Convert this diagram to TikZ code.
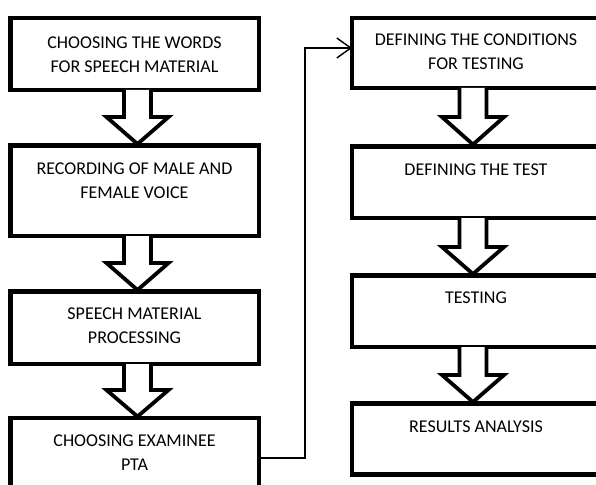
\documentclass[tikz,border=0pt]{standalone}
\usepackage{fontspec}
\setmainfont{Carlito}
\usetikzlibrary{arrows.meta}
\begin{document}
\begin{tikzpicture}[x=1pt,y=-1pt,
  box/.style={draw=black,line width=4.2pt,inner sep=0pt,outer sep=0pt,rectangle},
  lbl/.style={anchor=north,align=center,inner sep=0pt,font=\fontsize{18}{24.5}\selectfont},
  harrow/.style={draw=black,line width=3.8pt,line join=miter,fill=white},
  conn/.style={draw=black,line width=1.4pt,-{Straight Barb[length=14pt,width=20pt,line width=1.4pt]}}]
\clip (0,0) rectangle (596,484);
\fill[white] (0,0) rectangle (596,484);
% left column boxes
\node[box,minimum width=248.5pt,minimum height=72pt] (lb1) at (134.75,54) {};
\node[box,minimum width=248.5pt,minimum height=90.5pt] (lb2) at (134.75,190.75) {};
\node[box,minimum width=248.5pt,minimum height=72.5pt] (lb3) at (134.75,327.75) {};
\node[box,minimum width=248.5pt,minimum height=80pt] (lb4) at (134.75,458) {};
% right column boxes
\node[box,minimum width=248pt,minimum height=70pt] (rb1) at (476,53) {};
\node[box,minimum width=248pt,minimum height=71.5pt] (rb2) at (476,182.25) {};
\node[box,minimum width=248pt,minimum height=71.5pt] (rb3) at (476,311.25) {};
\node[box,minimum width=248pt,minimum height=71pt] (rb4) at (476,439) {};
% texts
\node[lbl] (t1) at (134.5,36.6) {CHOOSING THE WORDS\\FOR SPEECH MATERIAL};
\node[lbl] (t2) at (134.5,162.4) {RECORDING OF MALE AND\\FEMALE VOICE};
\node[lbl] (t3) at (134.5,307.4) {SPEECH MATERIAL\\PROCESSING};
\node[lbl] (t4) at (134.5,434.4) {CHOOSING EXAMINEE\\PTA};
\node[lbl] (t5) at (476,33.4) {DEFINING THE CONDITIONS\\FOR TESTING};
\node[lbl] (t6) at (476,163.4) {DEFINING THE TEST};
\node[lbl] (t7) at (476,291.4) {TESTING};
\node[lbl] (t8) at (476,420.4) {RESULTS ANALYSIS};
% hollow arrows (left)
\draw[harrow] (124,90) -- (124,117) -- (106.5,117) -- (137.5,144) -- (168.5,117) -- (151,117) -- (151,90);
\draw[harrow] (124,236) -- (124,263) -- (106.5,263) -- (137.5,290) -- (168.5,263) -- (151,263) -- (151,236);
\draw[harrow] (124,364) -- (124,390) -- (106.5,390) -- (137.5,416.5) -- (168.5,390) -- (151,390) -- (151,364);
% hollow arrows (right)
\draw[harrow] (459.5,88) -- (459.5,117) -- (442,117) -- (473,144.5) -- (504,117) -- (486.5,117) -- (486.5,88);
\draw[harrow] (459.5,218) -- (459.5,247) -- (442,247) -- (473,274) -- (504,247) -- (486.5,247) -- (486.5,218);
\draw[harrow] (459.5,347) -- (459.5,375) -- (442,375) -- (473,402) -- (504,375) -- (486.5,375) -- (486.5,347);
% connector
\coordinate (k1) at (305,458);
\coordinate (k2) at (305,48);
\draw[conn] (lb4.east) -- (k1) -- (k2) -- (k2 -| rb1.west);
\end{tikzpicture}
\end{document}
